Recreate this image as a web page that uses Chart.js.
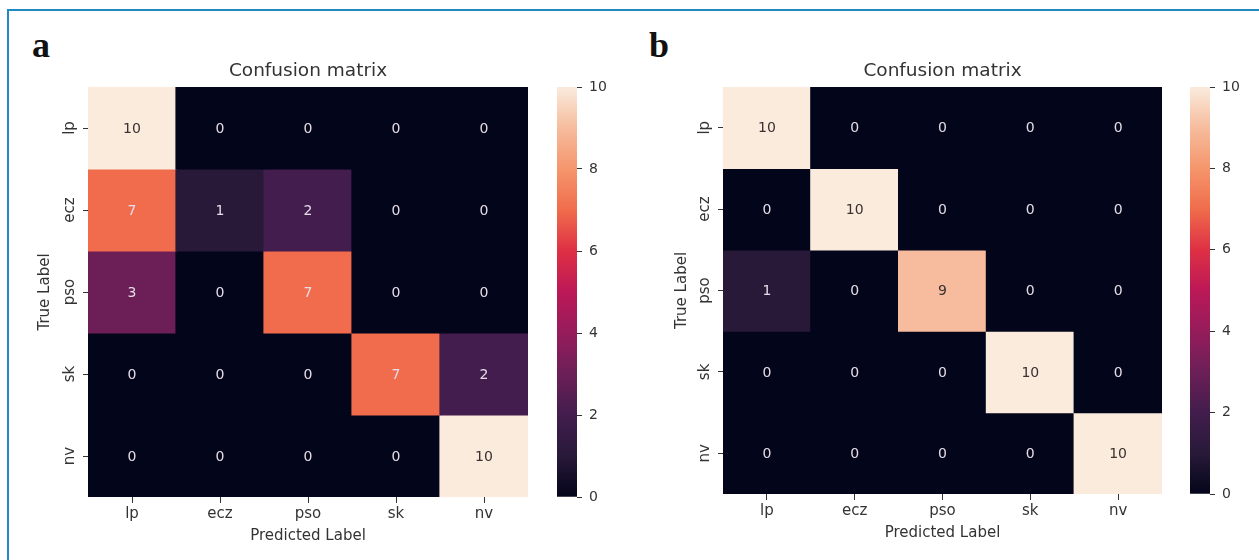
<!DOCTYPE html>
<html>
<head>
<meta charset="utf-8">
<script src="https://cdn.jsdelivr.net/npm/chart.js@4.4.0/dist/chart.umd.min.js"></script>
<style>
  html, body { margin: 0; padding: 0; background: #fff; }
  body { width: 1259px; height: 560px; position: relative; overflow: hidden; }
  #frame { position: absolute; left: 7px; top: 9px; width: 1300px; height: 600px;
           border-top: 2px solid #1f8ac4; border-left: 2px solid #1f8ac4; }
  .tag { position: absolute; font-family: "Liberation Serif"; font-weight: bold;
         font-size: 36px; line-height: 1; color: #111; }
  canvas { position: absolute; }
</style>
</head>
<body>
<div id="frame"></div>
<div class="tag" style="left:32px;top:27px">a</div>
<div class="tag" style="left:649px;top:27px">b</div>

<canvas id="heatA" width="508" height="492" style="left:20px;top:55px"></canvas>
<canvas id="barA" width="62" height="450" style="left:557px;top:67px"></canvas>
<canvas id="heatB" width="505" height="489" style="left:657px;top:55px"></canvas>
<canvas id="barB" width="62" height="447" style="left:1190px;top:67px"></canvas>

<script>
const labels = ['lp', 'ecz', 'pso', 'sk', 'nv']

// rows = true label, columns = predicted label
const matrixA = [
  [10, 0, 0, 0, 0],
  [7, 1, 2, 0, 0],
  [3, 0, 7, 0, 0],
  [0, 0, 0, 7, 2],
  [0, 0, 0, 0, 10],
]
const matrixB = [
  [10, 0, 0, 0, 0],
  [0, 10, 0, 0, 0],
  [1, 0, 9, 0, 0],
  [0, 0, 0, 10, 0],
  [0, 0, 0, 0, 10],
]
const barTicks = [0, 2, 4, 6, 8, 10]
const vmin = 0
const vmax = 10

// seaborn "rocket" colormap, sampled by eye
const rocket = [
  [0.0, [3, 5, 26]],
  [0.1, [40, 25, 57]],
  [0.2, [66, 29, 77]],
  [0.3, [108, 31, 87]],
  [0.4, [150, 28, 91]],
  [0.5, [188, 24, 87]],
  [0.6, [222, 48, 68]],
  [0.7, [240, 108, 76]],
  [0.8, [245, 150, 108]],
  [0.9, [246, 188, 157]],
  [1.0, [250, 235, 221]],
]

function rocketRgb(t) {
  t = Math.min(1, Math.max(0, t))
  for (let k = 1; k < rocket.length; k++) {
    if (t <= rocket[k][0]) {
      const [t0, c0] = rocket[k - 1]
      const [t1, c1] = rocket[k]
      const f = (t - t0) / (t1 - t0)
      return c0.map((c, n) => Math.round(c + (c1[n] - c) * f))
    }
  }
  return rocket[rocket.length - 1][1]
}
function cellColor(v) {
  const c = rocketRgb((v - vmin) / (vmax - vmin))
  return 'rgb(' + c.join(',') + ')'
}
function isLight(v) {
  const c = rocketRgb((v - vmin) / (vmax - vmin)).map(x => {
    x = x / 255
    return x <= 0.03928 ? x / 12.92 : Math.pow((x + 0.055) / 1.055, 2.4)
  })
  return 0.2126 * c[0] + 0.7152 * c[1] + 0.0722 * c[2] > 0.408
}

const textColor = '#333'
const tickFont = { family: 'DejaVu Sans', size: 15 }

// numbers in the cells, placed on the bar centres
const cellText = {
  id: 'cellText',
  afterDatasetsDraw(chart) {
    const ctx = chart.ctx
    ctx.save()
    ctx.font = '14px "DejaVu Sans"'
    ctx.textAlign = 'center'
    ctx.textBaseline = 'middle'
    chart.data.datasets.forEach((ds, i) => {
      chart.getDatasetMeta(i).data.forEach((bar, j) => {
        const v = ds.values[j]
        const p = bar.getCenterPoint()
        ctx.fillStyle = isLight(v) ? '#3c3030' : '#e4dce6'
        ctx.fillText(String(v), p.x, p.y + 1)
      })
    })
    ctx.restore()
  },
}

function heatChart(id, matrix, yWidth) {
  const datasets = matrix.map((row, i) => ({
    data: row.map(() => [i - 0.5, i + 0.5]),
    values: row,
    backgroundColor: row.map(v => cellColor(v)),
    borderWidth: 0,
    inflateAmount: 0.6,
    barPercentage: 1,
    categoryPercentage: 1,
    grouped: false,
  }))
  new Chart(document.getElementById(id), {
    type: 'bar',
    data: { labels: labels, datasets: datasets },
    plugins: [cellText],
    options: {
      responsive: false,
      animation: false,
      layout: { padding: 0 },
      plugins: {
        legend: { display: false },
        tooltip: { enabled: false },
        title: {
          display: true,
          text: 'Confusion matrix',
          fullSize: false,
          color: textColor,
          font: { family: 'DejaVu Sans', size: 18.5, weight: 'normal', lineHeight: 1.2 },
          padding: { top: 5, bottom: 4.8 },
        },
      },
      scales: {
        x: {
          type: 'category',
          offset: true,
          grid: { offset: false, drawOnChartArea: false, drawTicks: true, tickLength: 6, tickColor: '#333' },
          border: { display: false },
          ticks: { font: tickFont, color: textColor, padding: 2, maxRotation: 0 },
          title: { display: true, text: 'Predicted Label', color: textColor, font: tickFont, padding: { top: 0, bottom: 2 } },
          afterFit: s => { s.height = 50 },
        },
        y: {
          type: 'linear',
          min: -0.5,
          max: 4.5,
          reverse: true,
          afterBuildTicks: s => { s.ticks = labels.map((_, i) => ({ value: i })) },
          afterFit: s => { s.width = yWidth },
          grid: { drawOnChartArea: false, drawTicks: true, tickLength: 5, tickColor: '#333' },
          border: { display: false },
          ticks: {
            font: tickFont,
            color: textColor,
            padding: 0,
            minRotation: 90,
            maxRotation: 90,
            crossAlign: 'center',
            callback: (v, idx) => labels[idx],
          },
          title: { display: true, text: 'True Label', color: textColor, font: tickFont, padding: { top: 16, bottom: 0 } },
        },
      },
    },
  })
}

function colorBar(id) {
  new Chart(document.getElementById(id), {
    type: 'bar',
    data: {
      labels: [''],
      datasets: [{
        data: [[vmin, vmax]],
        borderWidth: 0,
        barPercentage: 1,
        categoryPercentage: 1,
        backgroundColor: c => {
          const area = c.chart.chartArea
          if (!area) return null
          const g = c.chart.ctx.createLinearGradient(0, area.bottom, 0, area.top)
          rocket.forEach(([t, rgb]) => g.addColorStop(t, 'rgb(' + rgb.join(',') + ')'))
          return g
        },
      }],
    },
    options: {
      responsive: false,
      animation: false,
      layout: { padding: { top: 20, bottom: 20, left: 0, right: 0 } },
      plugins: { legend: { display: false }, tooltip: { enabled: false } },
      scales: {
        x: { display: false },
        y: {
          position: 'right',
          min: vmin,
          max: vmax,
          afterBuildTicks: s => { s.ticks = barTicks.map(v => ({ value: v })) },
          afterFit: s => { s.width = 42 },
          grid: { drawOnChartArea: false, drawTicks: true, tickLength: 5, tickColor: '#333' },
          border: { display: false },
          ticks: { font: { family: 'DejaVu Sans', size: 14 }, color: textColor, padding: 7 },
        },
      },
    },
  })
}

heatChart('heatA', matrixA, 68)
colorBar('barA')
heatChart('heatB', matrixB, 66)
colorBar('barB')
</script>
</body>
</html>
